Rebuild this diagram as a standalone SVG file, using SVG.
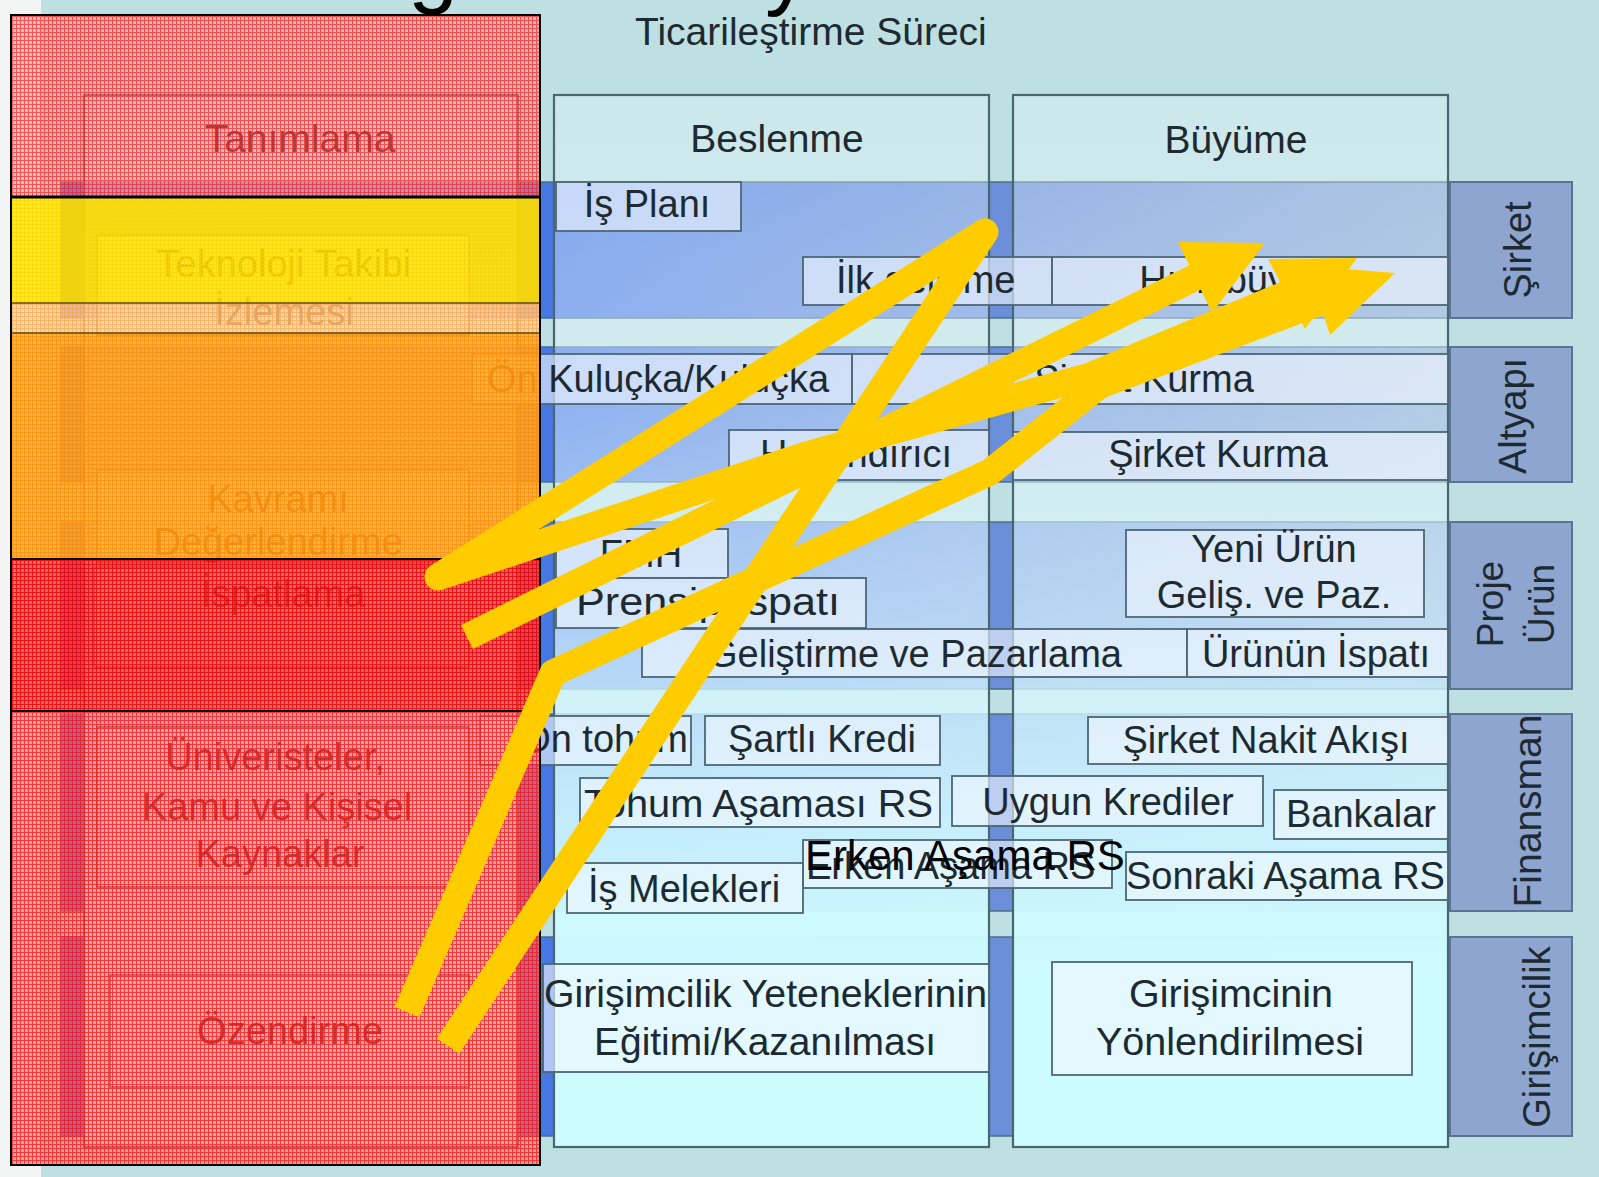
<svg xmlns="http://www.w3.org/2000/svg" width="1599" height="1177" viewBox="0 0 1599 1177">
<defs>
<style>
.t{font-family:'Liberation Sans',Arial,Helvetica,sans-serif;font-size:38px;fill:#1d2a31}
.c{text-anchor:middle}
.h{font-size:39px}
.box{fill:#f0f7ff;fill-opacity:.62;stroke:#4d6676;stroke-width:1.8}
.lbl{fill:#8ea5cf;stroke:#5a7296;stroke-width:2}
.row{fill:url(#rowG);stroke:#4f6d88;stroke-width:1.5}
.col{fill:url(#colG);stroke:#4a666e;stroke-width:2.2}
.arr{fill:none;stroke:#FFCC00;stroke-width:27}
.ah{fill:#FFCC00}
.ln{stroke:#000;fill:none}
</style>
<linearGradient id="rowG" gradientUnits="userSpaceOnUse" x1="61" y1="0" x2="1450" y2="0">
<stop offset="0" stop-color="#3a6ee3"/>
<stop offset=".34" stop-color="#4677e3"/>
<stop offset=".67" stop-color="#6a8ed8"/>
<stop offset="1" stop-color="#8aa6d0"/>
</linearGradient>
<linearGradient id="colG" gradientUnits="userSpaceOnUse" x1="0" y1="95" x2="0" y2="1147">
<stop offset="0" stop-color="#ecfaff" stop-opacity=".30"/>
<stop offset=".15" stop-color="#ecfaff" stop-opacity=".40"/>
<stop offset=".30" stop-color="#e6f8ff" stop-opacity=".46"/>
<stop offset=".48" stop-color="#dcf6ff" stop-opacity=".66"/>
<stop offset=".66" stop-color="#d2f8ff" stop-opacity=".88"/>
<stop offset=".85" stop-color="#cdfcff" stop-opacity="1"/>
<stop offset="1" stop-color="#cdfcff" stop-opacity="1"/>
</linearGradient>
<pattern id="pPink" width="4" height="4" patternUnits="userSpaceOnUse">
<rect width="4" height="4" fill="#ff8080" fill-opacity=".45"/>
<path d="M0 .5H4M.5 1V4" stroke="#ff1010" stroke-opacity=".62" stroke-width="1"/>
</pattern>
<pattern id="pPink2" width="4" height="4" patternUnits="userSpaceOnUse">
<rect width="4" height="4" fill="#ff6464" fill-opacity=".55"/>
<path d="M0 .5H4M.5 1V4" stroke="#ff0c0c" stroke-opacity=".72" stroke-width="1"/>
</pattern>
<pattern id="pYel" width="4" height="4" patternUnits="userSpaceOnUse">
<rect width="4" height="4" fill="#ffea00" fill-opacity=".84"/>
<path d="M0 .5H4M.5 1V4" stroke="#ffd000" stroke-opacity=".7" stroke-width="1"/>
</pattern>
<pattern id="pPeach" width="4" height="4" patternUnits="userSpaceOnUse">
<rect width="4" height="4" fill="#ffd490" fill-opacity=".78"/>
<path d="M0 .5H4M.5 1V4" stroke="#ff9a40" stroke-opacity=".6" stroke-width="1"/>
</pattern>
<pattern id="pOr" width="4" height="4" patternUnits="userSpaceOnUse">
<rect width="4" height="4" fill="#ffac1c" fill-opacity=".86"/>
<path d="M0 .5H4M.5 1V4" stroke="#ff8000" stroke-opacity=".6" stroke-width="1"/>
</pattern>
<pattern id="pRed" width="4" height="4" patternUnits="userSpaceOnUse">
<rect width="4" height="4" fill="#ff3a3a" fill-opacity=".76"/>
<path d="M0 .5H4M.5 1V4" stroke="#e80000" stroke-opacity=".8" stroke-width="1"/>
</pattern>
</defs>

<!-- background -->
<rect x="0" y="0" width="1599" height="1177" fill="#f3f4f4"/>
<rect x="41" y="0" width="1558" height="1177" fill="#bee0e2"/>

<!-- cut-off title glyphs at the top edge -->
<text class="t" x="408" y="-4" style="font-size:90px;fill:#000">g</text>
<text class="t" x="765" y="-2" style="font-size:90px;fill:#000">y</text>

<text id="title" class="t h" x="635" y="45">Ticarileştirme Süreci</text>

<!-- row bands -->
<g id="rows">
<rect class="row" x="61" y="182" width="1389" height="136"/>
<rect class="row" x="61" y="347" width="1389" height="135"/>
<rect class="row" x="61" y="522" width="1389" height="167"/>
<rect class="row" x="61" y="714" width="1389" height="197"/>
<rect class="row" x="61" y="937" width="1389" height="199"/>
</g>

<!-- columns -->
<g id="col-tanimlama"><rect class="col" x="84" y="95" width="434" height="1052"/><text class="t h c" x="300" y="152">Tanımlama</text></g>
<g id="col-beslenme"><rect class="col" x="554" y="95" width="435" height="1052"/><text class="t h c" x="777" y="152">Beslenme</text></g>
<g id="col-buyume"><rect class="col" x="1013" y="95" width="435" height="1052"/><text class="t h c" x="1236" y="153">Büyüme</text></g>

<!-- left column nodes (under overlay) -->
<g id="n-teknoloji"><rect class="box" x="97" y="235" width="372" height="100"/><text class="t c" x="284" y="277">Teknoloji Takibi</text><text class="t c" x="284" y="325">İzlemesi</text></g>
<g id="n-kavram"><rect class="box" x="97" y="470" width="372" height="92"/><text class="t c" x="278" y="512">Kavramı</text><text class="t c" x="278" y="555">Değerlendirme</text></g>
<g id="n-ispatlama"><rect class="box" x="94" y="567" width="375" height="100"/><text class="t c" x="283" y="607">İspatlama</text></g>
<g id="n-univ"><rect class="box" x="97" y="727" width="372" height="160"/><text class="t c" x="275" y="770">Üniveristeler,</text><text class="t c" x="277" y="820">Kamu ve Kişisel</text><text class="t c" x="280" y="867">Kaynaklar</text></g>
<g id="n-ozendirme"><rect class="box" x="110" y="975" width="359" height="112"/><text class="t c" x="290" y="1044">Özendirme</text></g>

<!-- Şirket row -->
<g id="n-isplani"><rect class="box" x="556" y="182" width="185" height="49"/><text class="t c" x="647" y="217">İş Planı</text></g>
<g id="n-ilkgelisme"><rect class="box" x="803" y="257" width="249" height="48"/><text class="t" x="836" y="293">İlk gelişme</text></g>
<g id="n-hizlibuyume"><rect class="box" x="1052" y="257" width="396" height="48"/><text class="t c" x="1250" y="293">Hızlı büyüme</text></g>

<!-- Altyapı row -->
<g id="n-kulucka"><rect class="box" x="472" y="354" width="380" height="50"/><text class="t" x="487" y="392">Ön Kuluçka/Kuluçka</text></g>
<g id="n-sirketkurma1"><rect class="box" x="852" y="354" width="596" height="50"/><text class="t c" x="1144" y="392">Şirket Kurma</text></g>
<g id="n-hizlandirici"><rect class="box" x="729" y="430" width="260" height="50"/><text class="t" x="760" y="467">Hızlandırıcı</text></g>
<g id="n-sirketkurma2"><rect class="box" x="1013" y="432" width="435" height="48"/><text class="t c" x="1218" y="467">Şirket Kurma</text></g>

<!-- Proje Ürün row -->
<g id="n-fmh"><rect class="box" x="556" y="529" width="172" height="49"/><text class="t c" x="641" y="567">FMH</text></g>
<g id="n-prensip"><rect class="box" x="556" y="578" width="310" height="50"/><text class="t" x="576" y="615" textLength="264" lengthAdjust="spacingAndGlyphs">Prensip İspatı</text></g>
<g id="n-yeniurun"><rect class="box" x="1126" y="530" width="298" height="87"/><text class="t c" x="1274" y="562">Yeni Ürün</text><text class="t c" x="1274" y="608">Geliş. ve Paz.</text></g>
<g id="n-gelistirme"><rect class="box" x="642" y="629" width="545" height="48"/><text class="t c" x="915" y="667">Geliştirme ve Pazarlama</text></g>
<g id="n-urununispati"><rect class="box" x="1187" y="629" width="261" height="48"/><text class="t c" x="1316" y="667">Ürünün İspatı</text></g>

<!-- Finansman row -->
<g id="n-ontohum"><rect class="box" x="480" y="716" width="211" height="49"/><text class="t" x="688" y="752" text-anchor="end">Ön tohum</text></g>
<g id="n-sartlikredi"><rect class="box" x="705" y="716" width="235" height="49"/><text class="t c" x="822" y="752">Şartlı Kredi</text></g>
<g id="n-nakitakisi"><rect class="box" x="1088" y="717" width="360" height="47"/><text class="t c" x="1266" y="753">Şirket Nakit Akışı</text></g>
<g id="n-tohumrs"><rect class="box" x="580" y="778" width="360" height="49"/><text class="t" x="584" y="817" textLength="349" lengthAdjust="spacingAndGlyphs">Tohum Aşaması RS</text></g>
<g id="n-uygun"><rect class="box" x="952" y="776" width="311" height="50"/><text class="t c" x="1108" y="815">Uygun Krediler</text></g>
<g id="n-bankalar"><rect class="box" x="1274" y="790" width="174" height="49"/><text class="t c" x="1361" y="827">Bankalar</text></g>
<g id="n-erkenrs"><rect class="box" x="803" y="840" width="309" height="48"/><text class="t" x="806" y="879">Erken Aşama RS</text></g>
<g id="n-melekler"><rect class="box" x="567" y="863" width="236" height="50"/><text class="t c" x="684" y="902">İş Melekleri</text></g>
<g id="n-sonrakirs"><rect class="box" x="1126" y="852" width="322" height="48"/><text class="t" x="1126" y="889">Sonraki Aşama RS</text></g>

<!-- Girişimcilik row -->
<g id="n-egitim"><rect class="box" x="543" y="964" width="446" height="108"/><text class="t" x="544" y="1007" textLength="443" lengthAdjust="spacingAndGlyphs">Girişimcilik Yeteneklerinin</text><text class="t" x="594" y="1055" textLength="342" lengthAdjust="spacingAndGlyphs">Eğitimi/Kazanılması</text></g>
<g id="n-yonlendirme"><rect class="box" x="1052" y="962" width="360" height="113"/><text class="t" x="1129" y="1007" textLength="204" lengthAdjust="spacingAndGlyphs">Girişimcinin</text><text class="t" x="1096" y="1055" textLength="268" lengthAdjust="spacingAndGlyphs">Yönlendirilmesi</text></g>

<!-- row labels -->
<g id="lbl-sirket"><rect class="lbl" x="1450" y="182" width="122" height="136"/><text class="t c" transform="translate(1531,250) rotate(-90)">Şirket</text></g>
<g id="lbl-altyapi"><rect class="lbl" x="1450" y="347" width="122" height="135"/><text class="t c" transform="translate(1526,416) rotate(-90)">Altyapı</text></g>
<g id="lbl-proje"><rect class="lbl" x="1450" y="522" width="122" height="167"/><text class="t c" style="font-size:37px" transform="translate(1503,604) rotate(-90)">Proje</text><text class="t c" style="font-size:37px" transform="translate(1554,604) rotate(-90)">Ürün</text></g>
<g id="lbl-finansman"><rect class="lbl" x="1450" y="714" width="122" height="197"/><text class="t c" style="font-size:39px" transform="translate(1541,811) rotate(-90)">Finansman</text></g>
<g id="lbl-girisimcilik"><rect class="lbl" x="1450" y="937" width="122" height="199"/><text class="t c" transform="translate(1550,1037) rotate(-90)">Girişimcilik</text></g>

<!-- coloured overlay on the left column -->
<g id="overlay">
<rect x="11" y="15" width="529" height="182" fill="url(#pPink)"/>
<rect x="11" y="197" width="529" height="106" fill="url(#pYel)"/>
<rect x="11" y="303" width="529" height="30" fill="url(#pPeach)"/>
<rect x="11" y="333" width="529" height="226" fill="url(#pOr)"/>
<rect x="11" y="559" width="529" height="152" fill="url(#pRed)"/>
<rect x="11" y="711" width="529" height="454" fill="url(#pPink2)"/>
<path d="M11 303H540M11 333H540" stroke="#5a4a10" stroke-opacity=".75" stroke-width="2" fill="none"/>
<path class="ln" d="M11 197H540" stroke-width="3"/>
<path class="ln" d="M11 559H540M11 711H540" stroke-width="2"/>
<rect class="ln" x="11" y="15" width="529" height="1150" stroke-width="2"/>
</g>

<!-- yellow arrows -->
<g id="connectors">
<polyline class="arr" points="448,1046 985,232 438,577 806,455 1090,376 1287,294" stroke-linejoin="round"/>
<polygon class="ah" points="1268,259 1357,258 1305,329"/>
<polyline class="arr" points="467,637 1196,277"/>
<polygon class="ah" points="1178,242 1265,243 1212,313"/>
<polyline class="arr" points="407,1012 553,673 990,472 1100,385 1320,302" stroke-linejoin="round"/>
<polygon class="ah" points="1308,266 1395,273 1330,335"/>
</g>

<text id="erken-overlay" class="t" x="805" y="870" style="font-size:42px;fill:#000">Erken Aşama RS</text>
</svg>
